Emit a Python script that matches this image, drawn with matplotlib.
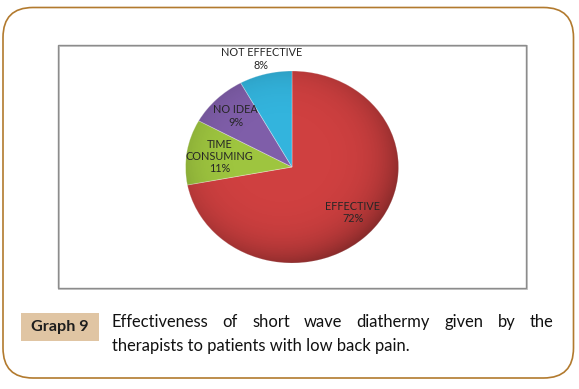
import numpy as np
import matplotlib
matplotlib.use("Agg")
import matplotlib.pyplot as plt
from matplotlib.patches import FancyBboxPatch, Rectangle, Circle

# ---- data ----
categories = ["EFFECTIVE", "TIME\nCONSUMING", "NO IDEA", "NOT EFFECTIVE"]
values = [72, 11, 9, 8]
colors = ["#CF4040", "#9EC53F", "#7F5EA9", "#33B4DD"]
label_dist = [0.74, 0.69, 0.75, 1.16]
graph_tag = "Graph 9"
caption_line1 = "Effectiveness of short wave diathermy given by the"
caption_line2 = "therapists to patients with low back pain."

W, H = 579, 389
fig = plt.figure(figsize=(W / 100, H / 100), dpi=100)
fig.patch.set_facecolor("white")

# overlay axes in pixel coordinates
ov = fig.add_axes([0, 0, 1, 1])
ov.set_xlim(0, W)
ov.set_ylim(H, 0)
ov.axis("off")

# outer rounded frame
ov.add_patch(FancyBboxPatch((3, 7.5), 570.5, 370.5,
                            boxstyle="round,pad=0,rounding_size=30",
                            fill=False, edgecolor="#B27A2E", linewidth=1.2))
# inner chart frame (with light shadow)
ov.add_patch(Rectangle((58.5, 46), 468, 242.5, fill=False,
                       edgecolor="#C8C8C8", linewidth=1.4))
ov.add_patch(Rectangle((57.5, 45), 468, 242.5, fill=False,
                       edgecolor="#8C8C8C", linewidth=1.0))

# pie axes
cx, cy, rx, ry = 292, 167, 106.5, 96
pax = fig.add_axes([(cx - rx) / W, (H - (cy + ry)) / H, 2 * rx / W, 2 * ry / H])
wedges, _ = pax.pie(values, colors=colors, startangle=90, counterclock=False,
                    radius=1, wedgeprops=dict(edgecolor=(1, 1, 1, 0.35), linewidth=0.6))
pax.set_aspect("auto")
pax.set_xlim(-1, 1)
pax.set_ylim(-1, 1)
pax.axis("off")

# subtle radial shading for 3D look
n = 300
xx, yy = np.meshgrid(np.linspace(-1, 1, n), np.linspace(-1, 1, n))
rr = np.sqrt((xx + 0.1) ** 2 + (yy - 0.1) ** 2)
shade = np.zeros((n, n, 4))
shade[..., 3] = np.clip(rr, 0, 1.3) ** 5 * 0.18
im = pax.imshow(shade, extent=[-1, 1, -1, 1], origin="lower", zorder=5,
                interpolation="bilinear", aspect="auto")
clipc = Circle((0, 0), 1.0, transform=pax.transData)
im.set_clip_path(clipc)
pax.set_xlim(-1, 1)
pax.set_ylim(-1, 1)

for w, cat, v, d in zip(wedges, categories, values, label_dist):
    ang = np.deg2rad((w.theta1 + w.theta2) / 2)
    pax.text(d * np.cos(ang), d * np.sin(ang), f"{cat}\n{v}%",
             ha="center", va="center", fontsize=7.8, family="Lato",
             color="#262626", linespacing=1.15, zorder=10, clip_on=False)

# caption tag
ov.add_patch(Rectangle((21, 312.7), 78, 28, facecolor="#E0C5A3", edgecolor="none"))
ov.text(60, 327.5, graph_tag, ha="center", va="center", fontsize=11.6,
        fontweight="bold", family="Lato", color="#1E1E1E")

# caption text
renderer = fig.canvas.get_renderer()
cap_fs = 11.9
x0, x1 = 111.7, 553.3
words = caption_line1.split()
tmp = [ov.text(0, 0, w_, fontsize=cap_fs, family="Lato") for w_ in words]
widths = [t.get_window_extent(renderer).width for t in tmp]
for t in tmp:
    t.remove()
gap = (x1 - x0 - sum(widths)) / (len(words) - 1)
x = x0
for w_, wd in zip(words, widths):
    ov.text(x, 327, w_, fontsize=cap_fs, family="Lato", color="#111111",
            ha="left", va="baseline")
    x += wd + gap
ov.text(x0, 351, caption_line2, fontsize=cap_fs, family="Lato", color="#111111",
        ha="left", va="baseline")

fig.savefig("out.png", dpi=100, facecolor="white")
